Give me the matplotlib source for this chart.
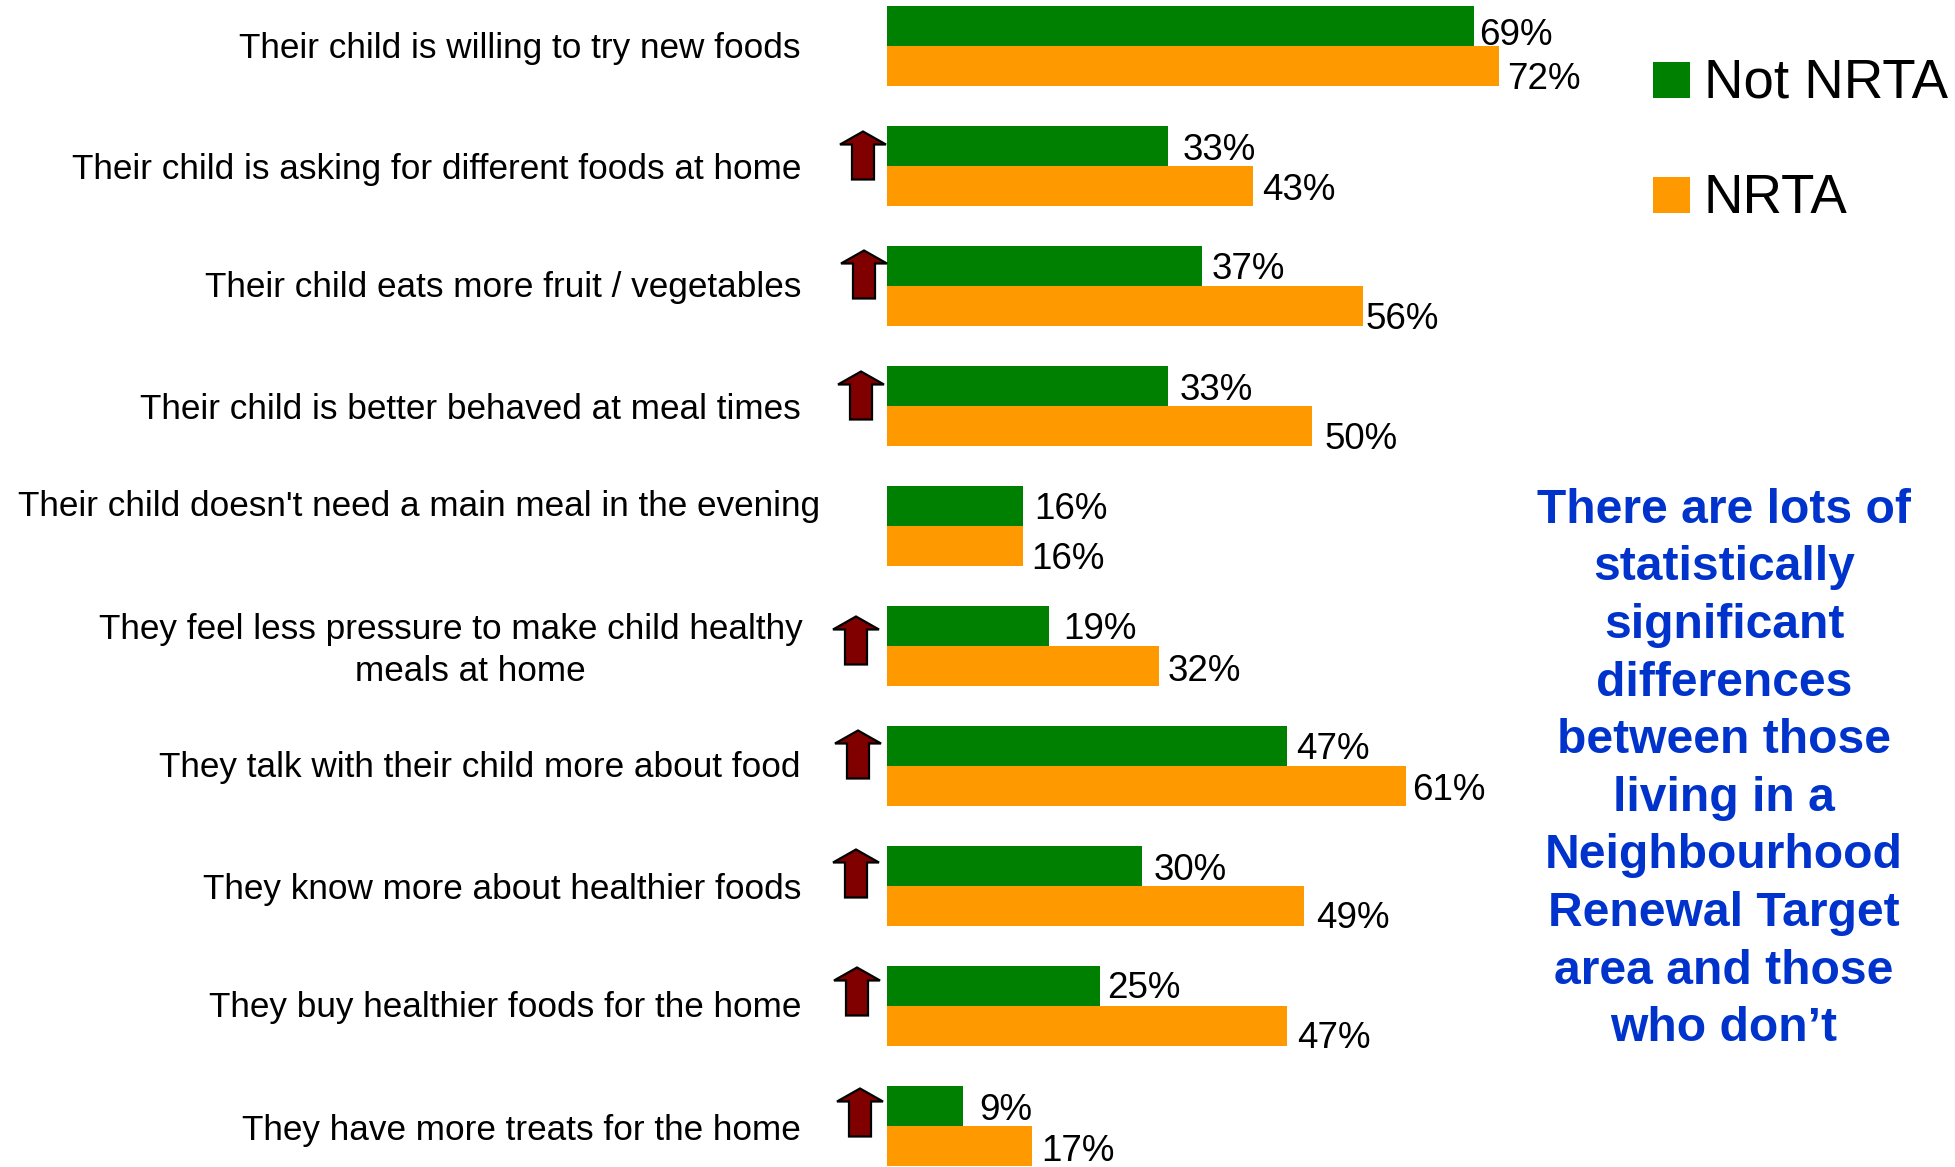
import matplotlib

matplotlib.use("Agg")

import matplotlib.pyplot as plt
from matplotlib.patches import Polygon, Rectangle

FONT = "Liberation Sans"
GREEN = "#008000"
ORANGE = "#FF9900"
ARROW_RED = "#800000"
NOTE_BLUE = "#0033CC"

WIDTH_PX = 1956
HEIGHT_PX = 1167
BAR_LEFT_PX = 887
PX_PER_PERCENT = 8.5
FIRST_ROW_PX = 46.5
ROW_PITCH_PX = 120
BAR_PX = 40

categories = [
    "Their child is willing to try new foods",
    "Their child is asking for different foods at home",
    "Their child eats more fruit / vegetables",
    "Their child is better behaved at meal times",
    "Their child doesn't need a main meal in the evening",
    "They feel less pressure to make child healthy\n    meals at home",
    "They talk with their child more about food",
    "They know more about healthier foods",
    "They buy healthier foods for the home",
    "They have more treats for the home",
]
not_nrta = [69, 33, 37, 33, 16, 19, 47, 30, 25, 9]
nrta = [72, 43, 56, 50, 16, 32, 61, 49, 47, 17]
significant = [False, True, True, True, False, True, True, True, True, True]
note = (
    "There are lots of\nstatistically\nsignificant\ndifferences\nbetween those\n"
    "living in a\nNeighbourhood\nRenewal Target\narea and those\nwho don\u2019t"
)

# hand placement of the labels, in pixels from the bar end / row centre
green_dx = [6, 15, 10, 12, 11, 15, 10, 12, 8, 16]
green_dy = [-11, -16, -17, -16, -17, -17, -17, -16, -18, -16]
orange_dx = [8, 10, 3, 13, 8, 9, 7, 13, 11, 10]
orange_dy = [33, 24, 33, 33, 33, 25, 24, 32, 32, 25]
label_right = [801, 801, 801, 801, 820, 803, 801, 801, 801, 801]
label_dy = [2, 3, 1, 3, -20, 4, 1, 3, 1, 4]
arrow_x = [0, 863, 864, 861, 0, 856, 858, 856, 857, 860]
arrow_tip = [0, -35, -36, -35, 0, -30, -36, -37, -39, -38]


def x_of(px: float) -> float:
    return (px - BAR_LEFT_PX) / PX_PER_PERCENT


def draw_arrow(ax, row: int) -> None:
    cx = arrow_x[row]
    tip = arrow_tip[row]
    outline = [
        (cx, tip),
        (cx + 23, tip + 13),
        (cx + 11, tip + 13),
        (cx + 11, tip + 48),
        (cx - 11, tip + 48),
        (cx - 11, tip + 13),
        (cx - 23, tip + 13),
    ]
    points = [(x_of(px), row + dy / ROW_PITCH_PX) for px, dy in outline]
    ax.add_patch(
        Polygon(points, closed=True, facecolor=ARROW_RED, edgecolor="black", linewidth=1.6, clip_on=False, zorder=3)
    )


def main() -> None:
    plt.rcParams["font.family"] = [FONT, "DejaVu Sans"]
    fig = plt.figure(figsize=(WIDTH_PX / 100, HEIGHT_PX / 100), dpi=100)
    ax = fig.add_axes([BAR_LEFT_PX / WIDTH_PX, 0, 1 - BAR_LEFT_PX / WIDTH_PX, 1])
    ax.set_xlim(0, (WIDTH_PX - BAR_LEFT_PX) / PX_PER_PERCENT)
    ax.set_ylim((HEIGHT_PX - FIRST_ROW_PX) / ROW_PITCH_PX, -FIRST_ROW_PX / ROW_PITCH_PX)
    ax.axis("off")

    rows = list(range(len(categories)))
    bar_h = BAR_PX / ROW_PITCH_PX
    ax.barh(rows, not_nrta, height=-bar_h, align="edge", color=GREEN)
    ax.barh(rows, nrta, height=bar_h, align="edge", color=ORANGE)

    for row in rows:
        ax.annotate(
            f"{not_nrta[row]}%",
            xy=(not_nrta[row], row),
            xytext=(green_dx[row], -green_dy[row]),
            textcoords="offset pixels",
            fontsize=26.5,
            ha="left",
            va="center",
        )
        ax.annotate(
            f"{nrta[row]}%",
            xy=(nrta[row], row),
            xytext=(orange_dx[row], -orange_dy[row]),
            textcoords="offset pixels",
            fontsize=26.5,
            ha="left",
            va="center",
        )
        ax.annotate(
            categories[row],
            xy=(0, row),
            xytext=(label_right[row] - BAR_LEFT_PX, -label_dy[row]),
            textcoords="offset pixels",
            fontsize=25.3,
            ha="right",
            va="center",
            multialignment="center",
            linespacing=1.36,
        )
        if significant[row]:
            draw_arrow(ax, row)

    # legend keys and labels
    for name, colour, top in [("Not NRTA", GREEN, 62), ("NRTA", ORANGE, 177)]:
        fig.add_artist(
            Rectangle(
                (1653 / WIDTH_PX, 1 - (top + 36) / HEIGHT_PX),
                37 / WIDTH_PX,
                36 / HEIGHT_PX,
                transform=fig.transFigure,
                facecolor=colour,
                edgecolor="none",
            )
        )
        fig.text(1704 / WIDTH_PX, 1 - (top + 36) / HEIGHT_PX, name, fontsize=39.3, ha="left", va="baseline")

    fig.text(
        1724 / WIDTH_PX,
        1 - 769.5 / HEIGHT_PX,
        note,
        color=NOTE_BLUE,
        fontsize=34.6,
        fontweight="bold",
        ha="center",
        va="center",
        linespacing=1.36,
    )

    fig.savefig("out.png", dpi=100)
    plt.close(fig)


if __name__ == "__main__":
    main()
